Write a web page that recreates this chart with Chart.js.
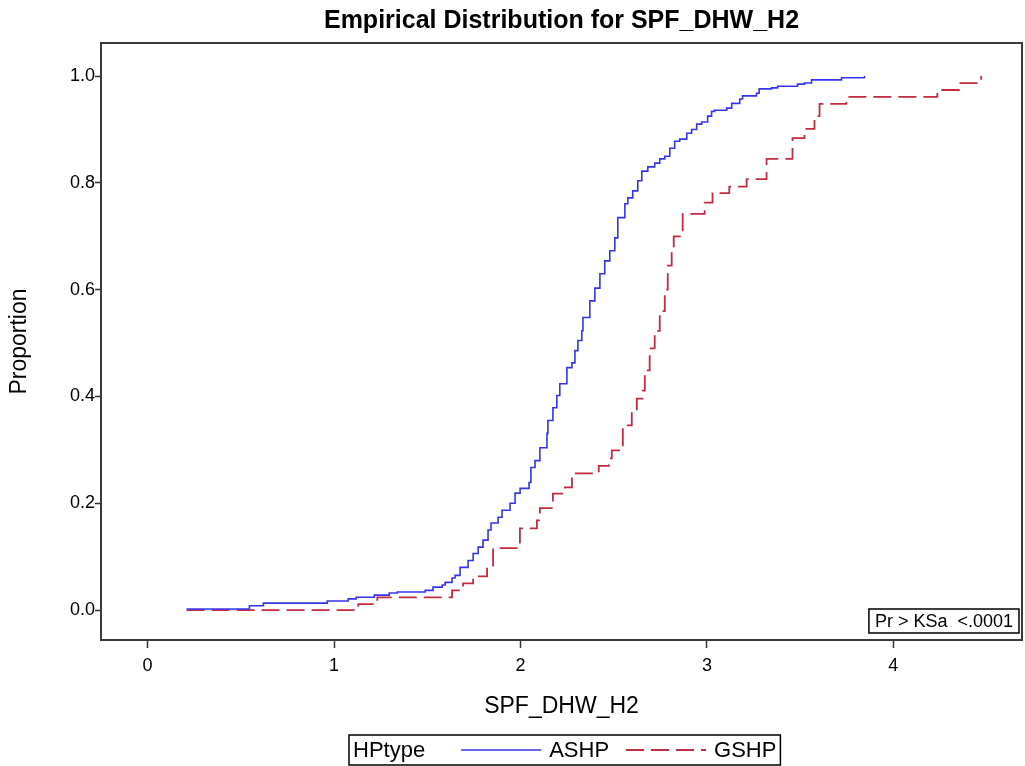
<!DOCTYPE html>
<html>
<head>
<meta charset="utf-8">
<title>Empirical Distribution for SPF_DHW_H2</title>
<script src="https://cdn.jsdelivr.net/npm/chart.js@4.4.0/dist/chart.umd.min.js"></script>
<style>
  html, body { margin: 0; padding: 0; background: #fff; }
  #wrap { width: 1025px; height: 766px; }
</style>
</head>
<body>
<div id="wrap"><canvas id="ecdfChart" width="1025" height="766"></canvas></div>
<script>
const chartTitle = 'Empirical Distribution for SPF_DHW_H2';
const xTitle = 'SPF_DHW_H2';
const yTitle = 'Proportion';
const legendTitle = 'HPtype';
const ksText = 'Pr > KSa  <.0001';

// step positions (value where the ECDF jumps) and the proportion after the jump
const ashpX = [0.209, 0.546, 0.621, 0.964, 1.076, 1.119, 1.216, 1.296, 1.339, 1.489,
  1.531, 1.580, 1.596, 1.633, 1.649, 1.676, 1.719, 1.746, 1.773, 1.799,
  1.826, 1.842, 1.880, 1.901, 1.944, 1.971, 1.998, 2.046, 2.056, 2.078,
  2.104, 2.142, 2.147, 2.174, 2.195, 2.211, 2.249, 2.276, 2.292, 2.308,
  2.329, 2.335, 2.372, 2.399, 2.426, 2.452, 2.479, 2.506, 2.522, 2.560,
  2.576, 2.602, 2.629, 2.651, 2.683, 2.720, 2.747, 2.774, 2.801, 2.827,
  2.854, 2.892, 2.918, 2.945, 2.972, 3.004, 3.025, 3.041, 3.106, 3.133,
  3.176, 3.191, 3.266, 3.280, 3.347, 3.379, 3.486, 3.523, 3.561, 3.722, 3.845];
const ashpY = [0.002, 0.008, 0.013, 0.017, 0.021, 0.024, 0.028, 0.032, 0.034, 0.037,
  0.043, 0.047, 0.052, 0.060, 0.065, 0.080, 0.093, 0.106, 0.118, 0.131,
  0.150, 0.163, 0.174, 0.187, 0.200, 0.219, 0.228, 0.239, 0.267, 0.280,
  0.304, 0.331, 0.355, 0.379, 0.402, 0.424, 0.454, 0.463, 0.486, 0.505,
  0.523, 0.548, 0.579, 0.603, 0.630, 0.654, 0.673, 0.697, 0.735, 0.761,
  0.772, 0.785, 0.804, 0.822, 0.830, 0.837, 0.845, 0.850, 0.865, 0.878,
  0.882, 0.893, 0.900, 0.910, 0.914, 0.925, 0.934, 0.936, 0.940, 0.949,
  0.957, 0.963, 0.968, 0.976, 0.978, 0.981, 0.985, 0.987, 0.993, 0.997, 1.000];

const gshpX = [0.209, 1.130, 1.232, 1.633, 1.692, 1.746, 1.821, 1.853, 1.997, 2.088,
  2.104, 2.174, 2.238, 2.276, 2.420, 2.474, 2.490, 2.549, 2.597, 2.624,
  2.656, 2.667, 2.693, 2.720, 2.747, 2.774, 2.790, 2.811, 2.822, 2.870,
  2.988, 3.030, 3.120, 3.213, 3.320, 3.459, 3.523, 3.577, 3.604, 3.748,
  4.236, 4.353, 4.471];
const gshpY = [0.000, 0.011, 0.024, 0.037, 0.050, 0.063, 0.080, 0.116, 0.153, 0.168,
  0.191, 0.218, 0.230, 0.256, 0.270, 0.284, 0.299, 0.346, 0.374, 0.396,
  0.411, 0.449, 0.490, 0.523, 0.560, 0.600, 0.645, 0.679, 0.700, 0.742,
  0.763, 0.781, 0.793, 0.807, 0.845, 0.884, 0.901, 0.925, 0.948, 0.961,
  0.974, 0.987, 1.000];

const xTicks = [0, 1, 2, 3, 4];
const yTicks = [0, 0.2, 0.4, 0.6, 0.8, 1.0];

const FONT = "'Liberation Sans', Arial, sans-serif";
const toPoints = (xs, ys) => xs.map((x, i) => ({ x, y: ys[i] }));

const framePlugin = {
    id: 'frame',
    afterDraw(chart) {
        const { ctx, chartArea: a } = chart;
        ctx.save();
        ctx.strokeStyle = '#3a3a3a';
        ctx.lineWidth = 2;
        ctx.strokeRect(a.left, a.top, a.right - a.left, a.bottom - a.top);

        // KS test inset, bottom right corner
        ctx.font = `18px ${FONT}`;
        const tw = ctx.measureText(ksText).width;
        const bw = tw + 12, bh = 24;
        const bx = a.right - 3 - bw, by = a.bottom - 7 - bh;
        ctx.fillStyle = '#fff';
        ctx.fillRect(bx, by, bw, bh);
        ctx.lineWidth = 1.5;
        ctx.strokeStyle = '#000';
        ctx.strokeRect(bx, by, bw, bh);
        ctx.fillStyle = '#000';
        ctx.textAlign = 'left';
        ctx.textBaseline = 'middle';
        ctx.fillText(ksText, bx + 6, by + bh / 2 + 1);
        ctx.restore();
    }
};

const legendPlugin = {
    id: 'boxLegend',
    afterDraw(chart) {
        const { ctx, chartArea: a } = chart;
        const sets = chart.data.datasets;
        const sample = 80, pad = 4;
        ctx.save();
        ctx.font = `22px ${FONT}`;
        let w = pad + ctx.measureText(legendTitle).width + 36;
        sets.forEach((ds, i) => {
            w += sample + 8 + ctx.measureText(ds.label).width + (i < sets.length - 1 ? 17 : pad);
        });
        const x0 = Math.round((a.left + a.right) / 2 + 3 - w / 2);
        const y0 = 735, h = 30, cy = y0 + h / 2;

        ctx.strokeStyle = '#000';
        ctx.lineWidth = 1.5;
        ctx.strokeRect(x0, y0, w, h);

        ctx.fillStyle = '#000';
        ctx.textAlign = 'left';
        ctx.textBaseline = 'middle';
        let x = x0 + pad;
        ctx.fillText(legendTitle, x, cy + 1);
        x += ctx.measureText(legendTitle).width + 36;

        sets.forEach(ds => {
            ctx.beginPath();
            ctx.strokeStyle = ds.borderColor;
            ctx.lineWidth = ds.borderWidth;
            ctx.setLineDash(ds.borderDash || []);
            ctx.moveTo(x, cy);
            ctx.lineTo(x + sample, cy);
            ctx.stroke();
            ctx.setLineDash([]);
            x += sample + 8;
            ctx.fillStyle = '#000';
            ctx.fillText(ds.label, x, cy + 1);
            x += ctx.measureText(ds.label).width + 17;
        });
        ctx.restore();
    }
};

const ctx = document.getElementById('ecdfChart').getContext('2d');
new Chart(ctx, {
    type: 'line',
    data: {
        datasets: [
            {
                label: 'ASHP',
                data: toPoints(ashpX, ashpY),
                borderColor: '#3434ee',
                borderWidth: 1.6,
                stepped: 'before',
                pointRadius: 0,
                fill: false
            },
            {
                label: 'GSHP',
                data: toPoints(gshpX, gshpY),
                borderColor: '#c42a40',
                borderWidth: 1.8,
                borderDash: [18, 7],
                stepped: 'before',
                pointRadius: 0,
                fill: false
            }
        ]
    },
    options: {
        responsive: false,
        animation: false,
        devicePixelRatio: 1,
        layout: { padding: { top: 0, right: 3, bottom: 36, left: 0 } },
        plugins: {
            legend: { display: false },
            tooltip: { enabled: false },
            title: {
                display: true,
                text: chartTitle,
                fullSize: false,
                color: '#000',
                font: { family: FONT, size: 25, weight: 'bold' },
                padding: { top: 6, bottom: 7 }
            }
        },
        scales: {
            x: {
                type: 'linear',
                min: -0.25,
                max: 4.69,
                afterBuildTicks: scale => { scale.ticks = xTicks.map(v => ({ value: v })); },
                afterFit: scale => { scale.height = 90; },
                border: { display: false },
                grid: { drawOnChartArea: false, drawTicks: true, tickLength: 8, tickColor: '#333', tickWidth: 1.5 },
                ticks: { color: '#000', padding: 7, font: { family: FONT, size: 18 }, callback: v => String(v), maxRotation: 0 },
                title: { display: true, text: xTitle, color: '#000', font: { family: FONT, size: 23 }, padding: { top: 0, bottom: 10 } }
            },
            y: {
                min: -0.056,
                max: 1.062,
                afterBuildTicks: scale => { scale.ticks = yTicks.map(v => ({ value: v })); },
                afterFit: scale => { scale.width = 101; },
                border: { display: false },
                grid: { drawOnChartArea: false, drawTicks: true, tickLength: 6, tickColor: '#333', tickWidth: 1.5 },
                ticks: { color: '#000', padding: 0, font: { family: FONT, size: 18 }, callback: v => Number(v).toFixed(1) },
                title: { display: true, text: yTitle, color: '#000', font: { family: FONT, size: 23 }, padding: { top: 6, bottom: 0 } }
            }
        }
    },
    plugins: [framePlugin, legendPlugin]
});
</script>
</body>
</html>
